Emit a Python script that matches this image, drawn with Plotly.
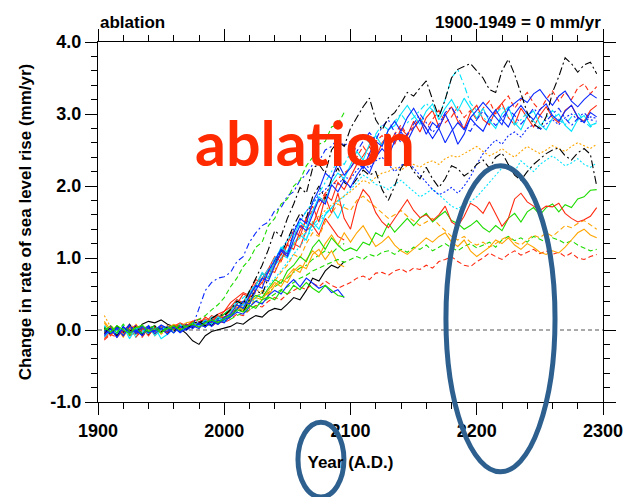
import plotly.graph_objects as go

# ---------------------------------------------------------------
# Ablation contribution to the change in rate of sea level rise
# (mm/yr), relative to 1900-1949, five-year samples per ensemble run
# ---------------------------------------------------------------
years_long = list(range(1905, 2300, 5))    # runs extended to 2300
years_short = list(range(1905, 2100, 5))   # runs that stop at 2100

black_dashdot_hi = [
    -0.05, 0.03, -0.08, 0.04, -0.02, 0.05, -0.06, 0.02, 0.06, -0.03,
    0.04, -0.02, 0.07, 0.01, 0.09, 0.12, 0.06, 0.16, 0.22, 0.20,
    0.28, 0.40, 0.36, 0.55, 0.72, 0.90, 1.12, 1.38, 1.30, 1.55,
    1.75, 1.98, 1.90, 2.25, 2.30, 2.18, 2.50, 2.62, 2.55, 2.80,
    2.95, 3.10, 3.22, 2.92, 2.78, 2.95, 3.02, 3.15, 3.30, 3.25,
    3.36, 3.46, 3.20, 2.96, 3.20, 3.50, 3.62, 3.66, 3.70, 3.60,
    3.50, 3.34, 3.30, 3.60, 3.76, 3.55, 3.30, 3.02, 2.86, 2.80,
    2.96, 3.30, 3.52, 3.78, 3.70, 3.58, 3.68, 3.72, 3.56]
black_dashdot_lo = [
    0.02, -0.06, 0.05, -0.03, 0.08, -0.04, 0.03, -0.07, 0.04, 0.01,
    -0.05, 0.06, 0.00, 0.08, 0.03, 0.10, 0.14, 0.06, 0.18, 0.12,
    0.18, 0.30, 0.25, 0.42, 0.55, 0.50, 0.72, 0.95, 1.05, 1.25,
    1.45, 1.62, 1.55, 1.85, 2.00, 1.82, 2.10, 2.25, 2.05, 1.98,
    2.10, 2.22, 2.15, 2.20, 1.95, 1.80, 2.00, 2.25, 2.36, 2.20,
    2.10, 2.26, 2.10, 1.98, 2.10, 2.28, 2.24, 2.14, 2.20, 2.30,
    2.36, 2.25, 2.40, 2.46, 2.30, 2.15, 2.08, 2.20, 2.30, 2.38,
    2.45, 2.50, 2.53, 2.42, 2.36, 2.46, 2.52, 2.44, 2.00]
blue_solid_a = [
    -0.08, 0.02, -0.10, 0.05, -0.04, 0.00, -0.07, 0.06, -0.02, 0.03,
    -0.06, 0.04, -0.03, 0.07, 0.02, 0.10, 0.04, 0.15, 0.08, 0.18,
    0.22, 0.35, 0.30, 0.48, 0.62, 0.58, 0.82, 0.98, 1.12, 1.05,
    1.35, 1.55, 1.48, 1.78, 1.95, 2.18, 2.10, 2.32, 2.15, 2.25,
    2.38, 2.24, 2.45, 2.62, 2.55, 2.78, 2.90, 2.76, 2.95, 3.08,
    2.92, 2.72, 2.88, 2.80, 3.00, 2.82, 2.58, 2.72, 2.95, 3.05,
    3.16, 3.06, 2.96, 2.85, 3.08, 3.15, 3.22, 3.16, 3.28, 3.34,
    3.22, 3.12, 3.25, 3.32, 3.18, 3.10, 3.20, 3.28, 3.22]
blue_solid_b = [
    0.04, -0.05, 0.02, -0.08, 0.06, -0.03, 0.05, -0.04, 0.00, 0.07,
    0.02, -0.04, 0.05, 0.00, 0.06, 0.02, 0.12, 0.05, 0.14, 0.10,
    0.20, 0.28, 0.40, 0.36, 0.55, 0.72, 0.68, 0.90, 1.10, 1.02,
    1.25, 1.45, 1.38, 1.60, 1.82, 1.75, 2.02, 1.92, 2.08, 1.98,
    2.15, 2.28, 2.18, 2.40, 2.52, 2.42, 2.62, 2.75, 2.62, 2.80,
    2.92, 2.80, 2.66, 2.80, 2.60, 2.76, 2.88, 2.78, 2.94, 2.84,
    2.76, 2.94, 3.06, 2.92, 2.82, 3.00, 3.12, 3.00, 2.92, 3.06,
    3.14, 2.98, 2.90, 3.04, 3.12, 2.96, 2.88, 3.02, 2.96]
blue_dashdot = [
    0.00, -0.06, 0.04, -0.02, 0.07, -0.05, 0.02, 0.05, -0.03, 0.06,
    0.03, 0.00, 0.05, 0.02, 0.05, 0.30, 0.55, 0.66, 0.72, 0.74,
    0.80, 0.95, 1.02, 1.22, 1.35, 1.45, 1.50, 1.66, 1.70, 1.86,
    1.92, 2.08, 2.16, 2.30, 2.34, 2.50, 2.55, 2.66, 2.56, 2.62,
    2.48, 2.62, 2.74, 2.64, 2.82, 2.92, 2.74, 2.60, 2.72, 2.86,
    3.00, 2.88, 2.74, 2.86, 3.02, 3.10, 2.94, 2.80, 2.76, 2.92,
    3.04, 2.94, 2.84, 2.94, 3.06, 2.98, 2.86, 2.96, 3.08, 2.98,
    2.90, 3.00, 3.08, 2.94, 2.84, 2.94, 3.02, 2.92, 2.90]
blue_dot = [
    -0.03, 0.05, -0.06, 0.02, 0.00, 0.06, -0.05, 0.03, -0.02, 0.04,
    0.00, 0.05, -0.02, 0.06, 0.04, 0.10, 0.12, 0.10, 0.16, 0.18,
    0.20, 0.30, 0.36, 0.45, 0.58, 0.70, 0.82, 0.95, 1.10, 1.25,
    1.40, 1.52, 1.65, 1.75, 1.88, 1.95, 2.05, 2.02, 2.12, 2.10,
    2.22, 2.30, 2.25, 2.35, 2.40, 2.30, 2.20, 2.28, 2.36, 2.25,
    2.15, 2.05, 1.95, 1.88, 1.92, 1.98, 1.90, 2.00, 2.13, 2.30,
    2.45, 2.55, 2.64, 2.58, 2.70, 2.75, 2.68, 2.80, 2.85, 2.78,
    2.86, 2.92, 2.85, 2.95, 3.00, 2.92, 2.88, 2.96, 2.94]
cyan_solid = [
    -0.10, 0.00, -0.05, 0.05, -0.12, 0.02, -0.04, 0.06, -0.08, 0.00,
    0.05, -0.04, 0.08, 0.00, 0.10, 0.06, 0.14, 0.08, 0.18, 0.12,
    0.25, 0.40, 0.34, 0.52, 0.62, 0.78, 0.72, 0.95, 1.15, 1.08,
    1.30, 1.50, 1.42, 1.65, 1.85, 1.78, 2.05, 2.18, 2.10, 2.30,
    2.48, 2.36, 2.58, 2.70, 2.56, 2.78, 2.84, 3.00, 3.12, 2.98,
    2.86, 3.04, 3.14, 2.92, 3.08, 3.20, 3.04, 3.22, 3.08, 2.94,
    3.08, 2.90, 2.80, 3.00, 3.10, 2.88, 2.78, 2.98, 3.04, 2.86,
    2.78, 2.94, 3.00, 2.84, 2.76, 2.92, 2.98, 2.84, 2.88]
cyan_dashdot = [
    0.05, -0.04, 0.00, 0.07, -0.06, 0.03, 0.00, -0.05, 0.06, -0.02,
    0.04, 0.00, 0.06, 0.03, 0.05, 0.10, 0.08, 0.14, 0.10, 0.16,
    0.20, 0.30, 0.40, 0.48, 0.58, 0.70, 0.85, 1.00, 1.12, 1.25,
    1.38, 1.50, 1.65, 1.78, 1.90, 2.05, 2.20, 2.35, 2.30, 2.45,
    2.62, 2.70, 2.60, 2.72, 2.85, 2.78, 2.90, 3.00, 2.88, 2.95,
    3.05, 3.15, 3.05, 2.96, 3.20, 3.50, 3.62, 3.40, 3.15, 3.05,
    2.95, 2.88, 3.00, 3.10, 2.95, 2.85, 2.92, 3.02, 2.90, 2.82,
    2.95, 3.05, 2.92, 2.85, 2.96, 3.02, 2.90, 2.82, 2.88]
cyan_dot = [
    0.06, -0.02, 0.04, -0.07, 0.02, -0.03, 0.05, 0.00, -0.04, 0.03,
    -0.02, 0.05, 0.02, 0.04, 0.08, 0.06, 0.12, 0.10, 0.14, 0.16,
    0.20, 0.24, 0.30, 0.36, 0.44, 0.52, 0.62, 0.72, 0.82, 0.94,
    1.05, 1.16, 1.28, 1.40, 1.50, 1.60, 1.70, 1.78, 1.86, 1.95,
    2.05, 2.15, 2.10, 2.02, 2.00, 1.95, 2.02, 2.08, 2.00, 1.92,
    1.85, 1.90, 1.96, 1.88, 1.80, 1.72, 1.68, 1.75, 1.78, 1.85,
    1.95, 2.05, 2.15, 2.25, 2.30, 2.20, 2.35, 2.28, 2.20, 2.30,
    2.36, 2.42, 2.35, 2.28, 2.32, 2.38, 2.30, 2.26, 2.32]
red_dash_hi = [
    -0.12, -0.05, 0.02, -0.08, 0.04, -0.10, 0.00, 0.05, -0.06, 0.02,
    -0.03, 0.06, 0.02, 0.08, 0.05, 0.12, 0.06, 0.15, 0.10, 0.18,
    0.22, 0.30, 0.36, 0.45, 0.56, 0.66, 0.80, 0.92, 1.05, 1.18,
    1.30, 1.42, 1.55, 1.66, 1.78, 1.90, 2.00, 2.10, 2.18, 2.25,
    2.40, 2.55, 2.42, 2.62, 2.70, 2.58, 2.72, 2.85, 2.70, 2.82,
    2.95, 2.80, 2.92, 3.05, 2.88, 2.96, 3.10, 2.95, 3.05, 2.92,
    3.08, 3.18, 3.00, 3.15, 3.25, 3.08, 3.20, 3.30, 3.15, 3.05,
    3.20, 3.32, 3.18, 3.30, 3.20, 3.36, 3.42, 3.28, 3.38]
red_solid_hi = [
    -0.06, 0.04, -0.10, 0.00, 0.06, -0.04, 0.03, -0.08, 0.05, -0.02,
    0.06, 0.00, 0.08, 0.04, 0.10, 0.04, 0.15, 0.10, 0.20, 0.16,
    0.30, 0.36, 0.50, 0.46, 0.62, 0.78, 0.72, 0.92, 1.05, 1.18,
    1.12, 1.38, 1.52, 1.45, 1.70, 1.88, 1.80, 2.05, 1.95, 2.12,
    2.30, 2.42, 2.55, 2.38, 2.60, 2.72, 2.58, 2.80, 2.70, 2.90,
    2.75, 2.95, 3.05, 2.82, 2.98, 3.10, 2.90, 2.80, 3.02, 3.12,
    2.92, 2.85, 3.05, 3.15, 2.95, 2.85, 3.08, 2.95, 2.82, 2.98,
    3.10, 2.95, 2.88, 3.05, 3.12, 2.95, 2.90, 3.05, 3.12]
red_solid_lo = [
    0.02, -0.08, 0.05, -0.04, 0.00, 0.07, -0.06, 0.03, -0.02, 0.05,
    -0.04, 0.03, 0.07, 0.02, 0.12, 0.08, 0.18, 0.12, 0.22, 0.26,
    0.32, 0.42, 0.38, 0.55, 0.70, 0.65, 0.85, 1.02, 0.95, 1.20,
    1.38, 1.30, 1.55, 1.72, 1.50, 1.85, 1.62, 1.90, 1.55, 1.40,
    1.75, 1.95, 1.85, 1.63, 1.50, 1.42, 1.55, 1.68, 1.81, 1.66,
    1.56, 1.60, 1.52, 1.60, 1.72, 1.50, 1.44, 1.58, 1.76, 1.71,
    1.62, 1.78, 1.60, 1.44, 1.55, 1.82, 1.90, 1.78, 1.72, 1.66,
    1.72, 1.71, 1.76, 1.62, 1.55, 1.50, 1.53, 1.58, 1.70]
red_dash_lo = [
    -0.14, -0.06, -0.10, 0.00, -0.08, -0.03, -0.10, 0.02, -0.05, -0.02,
    0.03, -0.04, 0.05, 0.00, 0.06, 0.04, 0.10, 0.05, 0.12, 0.10,
    0.15, 0.22, 0.20, 0.28, 0.34, 0.32, 0.40, 0.45, 0.42, 0.50,
    0.55, 0.60, 0.56, 0.65, 0.60, 0.68, 0.62, 0.58, 0.62, 0.66,
    0.72, 0.75, 0.70, 0.79, 0.80, 0.76, 0.82, 0.85, 0.80, 0.86,
    0.84, 0.90, 0.86, 0.95, 0.98, 1.02, 0.95, 0.90, 0.88, 0.95,
    1.00, 1.07, 1.02, 0.98, 1.05, 1.10, 1.04, 1.08, 1.12, 1.06,
    1.10, 1.05, 1.08, 1.02, 1.07, 1.00, 0.98, 1.02, 1.05]
orange_dot = [
    0.20, 0.04, -0.06, 0.02, -0.03, 0.05, -0.02, 0.04, -0.05, 0.03,
    0.00, 0.06, 0.02, 0.05, 0.08, 0.07, 0.12, 0.08, 0.15, 0.20,
    0.25, 0.30, 0.36, 0.44, 0.52, 0.62, 0.72, 0.84, 0.96, 1.08,
    1.20, 1.30, 1.40, 1.50, 1.58, 1.66, 1.74, 1.80, 1.86, 1.92,
    2.00, 2.08, 2.04, 2.12, 2.18, 2.20, 2.26, 2.22, 2.28, 2.30,
    2.26, 2.32, 2.35, 2.30, 2.38, 2.42, 2.40, 2.45, 2.50, 2.55,
    2.48, 2.42, 2.46, 2.52, 2.45, 2.40, 2.48, 2.55, 2.50, 2.45,
    2.50, 2.56, 2.52, 2.48, 2.55, 2.60, 2.56, 2.52, 2.58]
orange_solid = [
    0.10, -0.05, 0.03, -0.10, 0.05, -0.04, 0.00, 0.06, -0.08, 0.02,
    -0.05, 0.04, 0.00, 0.06, 0.03, 0.08, 0.04, 0.14, 0.10, 0.18,
    0.22, 0.30, 0.26, 0.38, 0.45, 0.42, 0.55, 0.66, 0.60, 0.75,
    0.85, 0.80, 0.98, 1.10, 1.02, 1.20, 1.32, 1.18, 1.35, 1.22,
    1.35, 1.45, 1.30, 1.16, 1.22, 1.30, 1.18, 1.10, 1.05, 1.12,
    1.20, 1.28, 1.22, 1.30, 1.35, 1.22, 1.16, 1.25, 1.10, 1.02,
    1.08, 1.15, 1.25, 1.20, 1.28, 1.18, 1.12, 1.20, 1.15, 1.08,
    1.05, 1.10, 1.07, 1.15, 1.25, 1.35, 1.40, 1.32, 1.28]
orange_dash = [
    -0.04, 0.06, 0.00, -0.05, 0.03, 0.08, -0.03, 0.00, 0.05, -0.06,
    0.02, -0.03, 0.05, 0.08, 0.04, 0.10, 0.06, 0.12, 0.08, 0.15,
    0.20, 0.28, 0.34, 0.30, 0.45, 0.55, 0.50, 0.68, 0.80, 0.90,
    1.05, 1.00, 1.20, 1.35, 1.30, 1.50, 1.62, 1.75, 1.70, 1.66,
    1.80, 1.86, 1.78, 1.70, 1.62, 1.55, 1.60, 1.66, 1.58, 1.52,
    1.45, 1.50, 1.55, 1.46, 1.38, 1.30, 1.25, 1.30, 1.22, 1.18,
    1.22, 1.15, 1.20, 1.26, 1.30, 1.22, 1.18, 1.25, 1.32, 1.28,
    1.35, 1.30, 1.38, 1.45, 1.42, 1.48, 1.52, 1.46, 1.40]
green_solid = [
    -0.02, 0.06, -0.04, 0.03, -0.07, 0.02, 0.05, -0.03, 0.04, 0.00,
    0.05, 0.02, 0.08, 0.04, 0.10, 0.06, 0.12, 0.08, 0.16, 0.22,
    0.28, 0.35, 0.30, 0.42, 0.48, 0.45, 0.58, 0.70, 0.65, 0.82,
    0.90, 1.02, 0.95, 1.15, 1.25, 1.12, 1.28, 1.18, 1.10, 1.14,
    1.10, 1.22, 1.18, 1.35, 1.30, 1.48, 1.36, 1.46, 1.55, 1.45,
    1.55, 1.62, 1.50, 1.58, 1.65, 1.52, 1.48, 1.40, 1.45, 1.52,
    1.42, 1.36, 1.45, 1.38, 1.55, 1.62, 1.50, 1.64, 1.70, 1.60,
    1.70, 1.75, 1.64, 1.74, 1.70, 1.82, 1.85, 1.94, 1.95]
green_dash = [
    0.03, -0.05, 0.06, -0.02, 0.04, -0.06, 0.02, -0.04, 0.05, 0.00,
    -0.03, 0.04, 0.00, 0.05, 0.06, 0.08, 0.04, 0.10, 0.12, 0.14,
    0.15, 0.20, 0.24, 0.28, 0.34, 0.38, 0.44, 0.50, 0.56, 0.60,
    0.66, 0.72, 0.76, 0.82, 0.86, 0.90, 0.95, 0.98, 0.94, 0.98,
    1.02, 0.98, 1.05, 1.02, 1.08, 1.10, 1.05, 1.12, 1.08, 1.15,
    1.12, 1.18, 1.10, 1.15, 1.20, 1.14, 1.10, 1.16, 1.20, 1.14,
    1.18, 1.22, 1.15, 1.25, 1.30, 1.24, 1.28, 1.22, 1.30, 1.26,
    1.22, 1.28, 1.25, 1.20, 1.24, 1.18, 1.14, 1.10, 1.12]

# runs ending in 2095
green_dash_21c = [
    0.00, 0.05, -0.04, 0.08, -0.02, 0.04, -0.06, 0.02, 0.06, -0.03,
    0.04, 0.00, 0.07, 0.05, 0.10, 0.15, 0.20, 0.28, 0.35, 0.45,
    0.60, 0.72, 0.88, 0.98, 1.15, 1.22, 1.45, 1.55, 1.75, 1.82,
    2.00, 2.08, 2.28, 2.40, 2.58, 2.62, 2.82, 2.86, 3.02]
blue_solid_21c = [
    -0.06, 0.02, -0.10, 0.04, -0.03, 0.00, -0.08, 0.03, -0.05, 0.02,
    -0.02, 0.04, -0.04, 0.02, 0.05, 0.08, 0.04, 0.12, 0.08, 0.15,
    0.18, 0.25, 0.22, 0.32, 0.40, 0.36, 0.48, 0.55, 0.50, 0.62,
    0.70, 0.60, 0.72, 0.65, 0.58, 0.62, 0.52, 0.56, 0.45]
green_solid_21c = [
    0.04, -0.03, 0.06, 0.00, -0.05, 0.03, 0.07, -0.02, 0.02, -0.04,
    0.02, 0.06, 0.00, 0.05, 0.08, 0.04, 0.10, 0.14, 0.10, 0.16,
    0.20, 0.28, 0.25, 0.34, 0.30, 0.42, 0.46, 0.42, 0.55, 0.50,
    0.62, 0.56, 0.66, 0.58, 0.52, 0.62, 0.55, 0.48, 0.46]
black_solid_21c = [
    -0.04, 0.02, -0.06, 0.00, 0.05, -0.03, 0.08, 0.12, 0.10, 0.14,
    0.08, 0.05, 0.02, -0.05, -0.15, -0.20, -0.08, -0.02, 0.00, 0.02,
    0.05, 0.10, 0.08, 0.15, 0.20, 0.18, 0.26, 0.30, 0.28, 0.36,
    0.45, 0.42, 0.55, 0.72, 0.68, 0.82, 0.90, 0.86, 0.95]
cyan_solid_21c = [
    -0.05, 0.03, 0.00, -0.08, 0.05, -0.10, 0.02, -0.05, 0.04, -0.12,
    -0.06, 0.02, -0.03, 0.05, 0.08, 0.12, 0.06, 0.18, 0.14, 0.22,
    0.30, 0.42, 0.38, 0.55, 0.62, 0.80, 0.72, 0.95, 1.05, 1.00,
    1.20, 1.32, 1.25, 1.50, 1.40, 1.60, 1.70, 1.55, 1.75]
orange_solid_21c = [
    0.12, 0.00, -0.06, 0.04, -0.02, 0.06, -0.04, 0.02, 0.05, 0.00,
    0.03, 0.08, 0.05, 0.10, 0.12, 0.08, 0.15, 0.10, 0.18, 0.22,
    0.25, 0.32, 0.28, 0.40, 0.45, 0.52, 0.48, 0.62, 0.70, 0.66,
    0.82, 0.90, 0.85, 1.05, 1.12, 0.98, 1.10, 0.92, 0.88]
red_solid_21c = [
    -0.10, -0.02, 0.04, -0.06, 0.00, 0.05, -0.08, 0.02, -0.03, 0.06,
    0.00, 0.05, 0.10, 0.06, 0.12, 0.15, 0.10, 0.20, 0.16, 0.26,
    0.38, 0.45, 0.52, 0.48, 0.65, 0.72, 0.85, 0.80, 1.00, 1.08,
    1.20, 1.15, 1.38, 1.45, 1.32, 1.55, 1.42, 1.30, 1.25]
cyan_dash_21c = [
    0.03, -0.05, 0.05, -0.02, 0.00, -0.06, 0.04, 0.00, -0.04, 0.05,
    0.02, -0.03, 0.04, 0.08, 0.06, 0.10, 0.14, 0.10, 0.18, 0.22,
    0.30, 0.36, 0.45, 0.52, 0.60, 0.72, 0.82, 0.90, 1.00, 1.10,
    1.20, 1.28, 1.35, 1.45, 1.55, 1.62, 1.70, 1.80, 1.85]
green_dashdot_21c = [
    -0.04, 0.03, 0.00, -0.02, 0.06, 0.00, -0.05, 0.04, 0.02, -0.02,
    0.05, 0.03, 0.06, 0.04, 0.05, 0.08, 0.10, 0.06, 0.12, 0.15,
    0.20, 0.24, 0.30, 0.34, 0.40, 0.46, 0.52, 0.60, 0.66, 0.72,
    0.80, 0.86, 0.90, 0.98, 1.04, 1.10, 1.06, 1.15, 1.20]

x_ticks = [1900, 2000, 2100, 2200, 2300]
x_ticklabels = ["1900", "2000", "2100", "2200", "2300"]
y_ticks = [-1, 0, 1, 2, 3, 4]
y_ticklabels = ["-1.0", "0.0", "1.0", "2.0", "3.0", "4.0"]

# colours and line patterns
BLACK, BLUE, CYAN = "#000000", "#0a28ff", "#00e4ff"
RED, ORANGE, GREEN = "#ff2a10", "#ffa500", "#1edc00"
SOLID = "solid"
DASH = "5px,3px"
DOT = "2px,2px"
DASHDOT = "6px,3px,2px,3px"
LONGDASHDOT = "8px,3px,2px,3px"

runs = [
    (years_short, black_solid_21c, BLACK, SOLID),
    (years_short, green_dashdot_21c, GREEN, DASHDOT),
    (years_short, orange_solid_21c, ORANGE, SOLID),
    (years_short, red_solid_21c, RED, SOLID),
    (years_short, cyan_solid_21c, CYAN, SOLID),
    (years_short, cyan_dash_21c, CYAN, DASH),
    (years_long, red_dash_lo, RED, DASH),
    (years_long, green_dash, GREEN, DASH),
    (years_long, orange_solid, ORANGE, SOLID),
    (years_long, orange_dash, ORANGE, DASH),
    (years_long, green_solid, GREEN, SOLID),
    (years_long, red_solid_lo, RED, SOLID),
    (years_long, cyan_dot, CYAN, DOT),
    (years_long, orange_dot, ORANGE, DOT),
    (years_long, blue_dot, BLUE, DOT),
    (years_long, black_dashdot_lo, BLACK, LONGDASHDOT),
    (years_long, red_solid_hi, RED, SOLID),
    (years_long, red_dash_hi, RED, DASH),
    (years_long, cyan_solid, CYAN, SOLID),
    (years_long, cyan_dashdot, CYAN, DASHDOT),
    (years_long, blue_solid_b, BLUE, SOLID),
    (years_long, blue_solid_a, BLUE, SOLID),
    (years_long, blue_dashdot, BLUE, DASHDOT),
    (years_long, black_dashdot_hi, BLACK, LONGDASHDOT),
    (years_short, blue_solid_21c, BLUE, SOLID),
    (years_short, green_solid_21c, GREEN, SOLID),
    (years_short, green_dash_21c, GREEN, DASH),
]

fig = go.Figure()
for xs, ys, col, dash in runs:
    fig.add_trace(go.Scatter(x=xs, y=ys, mode="lines",
                             line=dict(color=col, width=1.1, dash=dash),
                             showlegend=False, hoverinfo="skip"))

# reference level
fig.add_hline(y=0, line=dict(color="#555555", width=1, dash="4px,3px"), layer="below")

NCL = "Liberation Sans, Arial, Helvetica, sans-serif"
tick_font = dict(family=NCL, size=18, color="black", weight="bold")
title_font = dict(family=NCL, size=17, color="black", weight="bold")

axis_common = dict(
    showgrid=False, zeroline=False, showline=True, linecolor="black",
    linewidth=1, mirror="ticks", ticks="outside", ticklen=12, tickwidth=1,
    tickcolor="black", tickfont=tick_font, automargin=False,
)
fig.update_xaxes(range=[1900, 2300], tickvals=x_ticks, ticktext=x_ticklabels,
                 minor=dict(dtick=20, ticks="outside", ticklen=6, tickcolor="black"),
                 title=dict(text="Year (A.D.)", font=title_font, standoff=16),
                 **axis_common)
fig.update_yaxes(range=[-1, 4], tickvals=y_ticks, ticktext=y_ticklabels,
                 minor=dict(dtick=0.2, ticks="outside", ticklen=6, tickcolor="black"),
                 title=dict(text="Change in rate of sea level rise (mm/yr)",
                            font=title_font, standoff=14),
                 **axis_common)

fig.add_annotation(text="ablation", xref="paper", yref="paper", x=0, y=1,
                   xanchor="left", yanchor="bottom", yshift=8, showarrow=False,
                   font=dict(family=NCL, size=17, color="black", weight="bold"))
fig.add_annotation(text="1900-1949 = 0 mm/yr", xref="paper", yref="paper", x=1, y=1,
                   xanchor="right", yanchor="bottom", yshift=8, showarrow=False,
                   font=dict(family=NCL, size=17, color="black", weight="bold"))
fig.add_annotation(text="ablation", xref="x", yref="y", x=2064, y=2.6,
                   xanchor="center", yanchor="middle", showarrow=False,
                   font=dict(family="Lato", size=61, color="#ff2a00", weight="bold"))

# highlight rings
RING = "#2d5f8f"
fig.add_shape(type="circle", xref="paper", yref="paper",
              x0=0.689, x1=0.905, y0=-0.194, y1=0.656,
              line=dict(color=RING, width=5), layer="above")
fig.add_shape(type="circle", xref="paper", yref="paper",
              x0=0.396, x1=0.487, y0=-0.264, y1=-0.056,
              line=dict(color=RING, width=5), layer="above")

fig.update_layout(width=624, height=497, margin=dict(l=98, r=21, t=42, b=95),
                  paper_bgcolor="white", plot_bgcolor="white")

fig.write_html("out.html")
